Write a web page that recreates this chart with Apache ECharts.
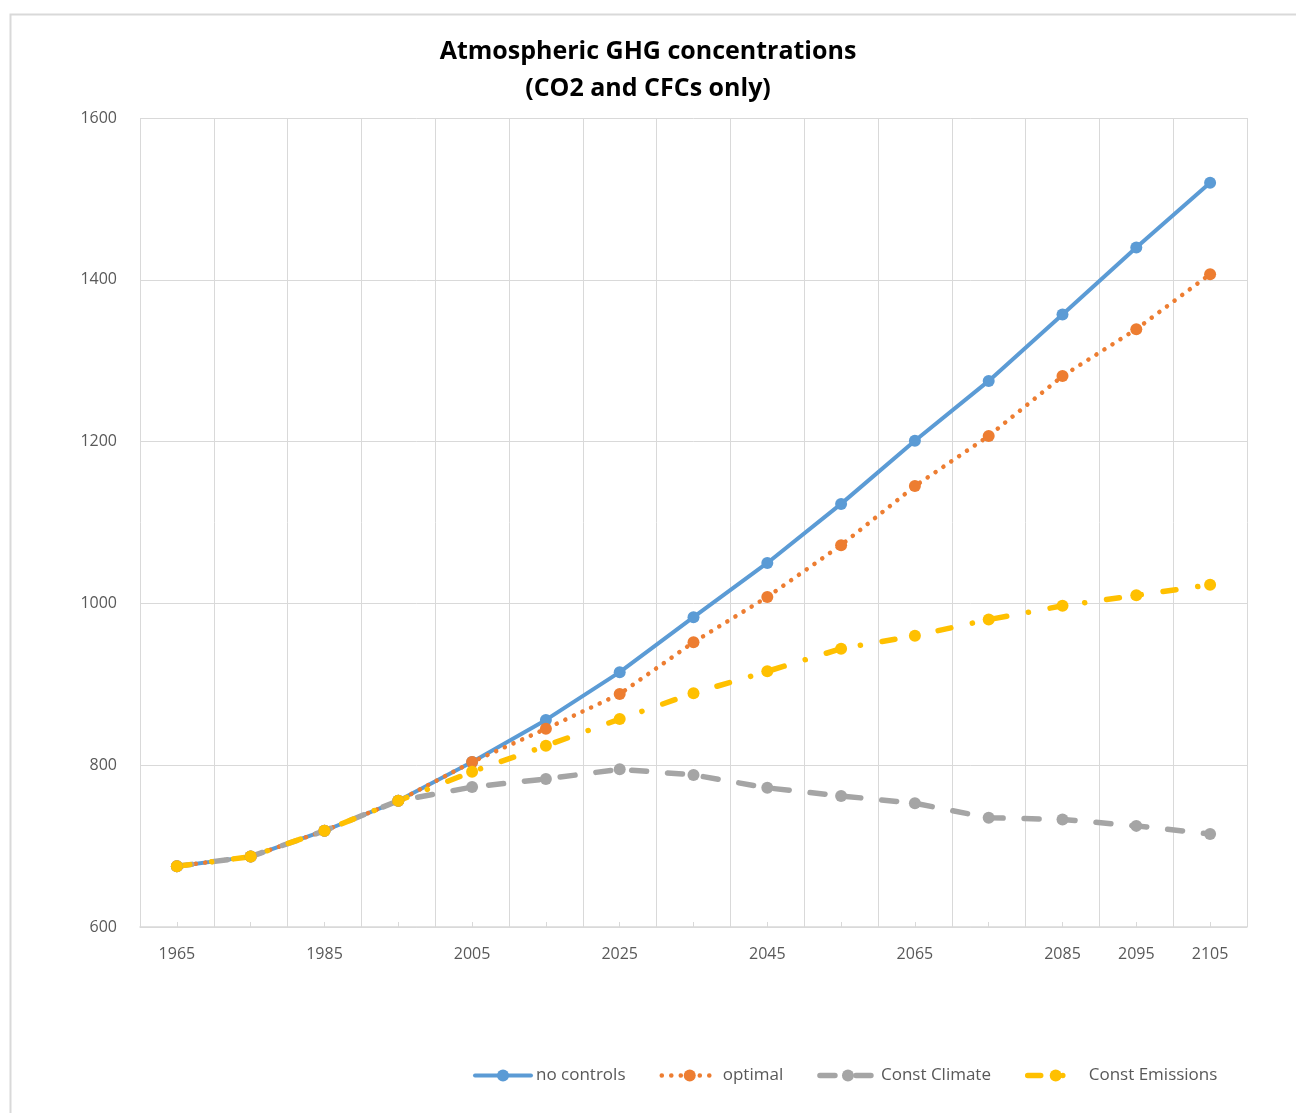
<!DOCTYPE html>
<html>
<head>
<meta charset="utf-8">
<script src="https://cdn.jsdelivr.net/npm/echarts@6/dist/echarts.min.js"></script>
<style>
  html, body { margin: 0; padding: 0; background: #fff; }
  #chart { width: 1296px; height: 1113px; }
</style>
</head>
<body>
<div id="chart"></div>
<script>
// Years on the category axis
const years = ['1965', '1975', '1985', '1995', '2005', '2015', '2025', '2035', '2045', '2055', '2065', '2075', '2085', '2095', '2105'];
// Years that carry a visible tick label
const labelledYears = ['1965', '1985', '2005', '2025', '2045', '2065', '2085', '2095', '2105'];

// Concentrations per scenario
const noControls     = [675, 687, 719, 756, 804, 856, 915, 983, 1050, 1123, 1201, 1275, 1357, 1440, 1520];
const optimal        = [675, 687, 719, 756, 804, 845, 888, 952, 1008, 1072, 1145, 1207, 1281, 1339, 1407];
const constClimate   = [675, 687, 719, 756, 773, 783, 795, 788, 772, 762, 753, 735, 733, 725, 715];
const constEmissions = [675, 687, 719, 756, 792, 824, 857, 889, 916, 944, 960, 980, 997, 1010, 1023];

const FONT = '"Open Sans", "Liberation Sans", sans-serif';
const GRID_GRAY = '#d9d9d9';
const TEXT_GRAY = '#595959';

// Line look for each scenario
const styles = {
  'no controls':     { color: '#5B9BD5', width: 4,   type: 'solid' },
  'optimal':         { color: '#ED7D31', width: 4.5, type: [0.1, 9.4] },
  'Const Climate':   { color: '#A5A5A5', width: 5.5, type: [15, 21] },
  'Const Emissions': { color: '#FFC000', width: 5.5, type: [13, 22, 0.1, 22] }
};

const chart = echarts.init(document.getElementById('chart'), null, { renderer: 'canvas' });

function lineStyleOf(name) {
  const s = styles[name];
  return { color: s.color, width: s.width, type: s.type, cap: 'round', join: 'round' };
}

function lineSeries(name, data) {
  return {
    name: name,
    type: 'line',
    data: data,
    symbol: 'circle',
    symbolSize: 12,
    showSymbol: true,
    itemStyle: { color: styles[name].color },
    lineStyle: lineStyleOf(name),
    emphasis: { disabled: true },
    animation: false
  };
}

const names = ['no controls', 'optimal', 'Const Climate', 'Const Emissions'];

chart.setOption({
  backgroundColor: '#fff',
  textStyle: { fontFamily: FONT },
  graphic: [{
    type: 'rect',
    shape: { x: 10.5, y: 14.5, width: 1300, height: 1120 },
    style: { fill: 'none', stroke: GRID_GRAY, lineWidth: 2 },
    silent: true,
    z: -10
  }],
  title: {
    text: 'Atmospheric GHG concentrations\n(CO2 and CFCs only)',
    left: 'center',
    top: 28,
    textStyle: {
      fontFamily: FONT,
      fontSize: 25,
      fontWeight: 'bold',
      color: '#000',
      lineHeight: 37
    }
  },
  legend: {
    left: 468,
    top: 1062,
    itemWidth: 56,
    itemHeight: 15,
    itemGap: 34,
    textStyle: { fontFamily: FONT, fontSize: 17, color: TEXT_GRAY },
    data: names.map(n => ({ name: n, lineStyle: lineStyleOf(n) }))
  },
  grid: { left: 140, top: 118, right: 49, bottom: 186, containLabel: false },
  xAxis: {
    type: 'category',
    data: years,
    boundaryGap: true,
    axisLine: { show: true, lineStyle: { color: GRID_GRAY, width: 1.5 } },
    axisTick: { show: true, alignWithLabel: true, inside: true, length: 5, interval: 0, lineStyle: { color: GRID_GRAY } },
    axisLabel: {
      interval: (index, value) => labelledYears.includes(value),
      margin: 19,
      fontFamily: FONT,
      fontSize: 16,
      color: TEXT_GRAY
    },
    splitLine: { show: true, interval: 0, lineStyle: { color: GRID_GRAY, width: 1 } }
  },
  yAxis: {
    type: 'value',
    min: 600,
    max: 1600,
    interval: 200,
    axisLine: { show: false },
    axisTick: { show: false },
    axisLabel: { margin: 23, fontFamily: FONT, fontSize: 16, color: TEXT_GRAY, formatter: v => String(v) },
    splitLine: { show: true, lineStyle: { color: GRID_GRAY, width: 1 } }
  },
  series: names.map((n, i) => lineSeries(n, [noControls, optimal, constClimate, constEmissions][i]))
});
</script>
</body>
</html>
